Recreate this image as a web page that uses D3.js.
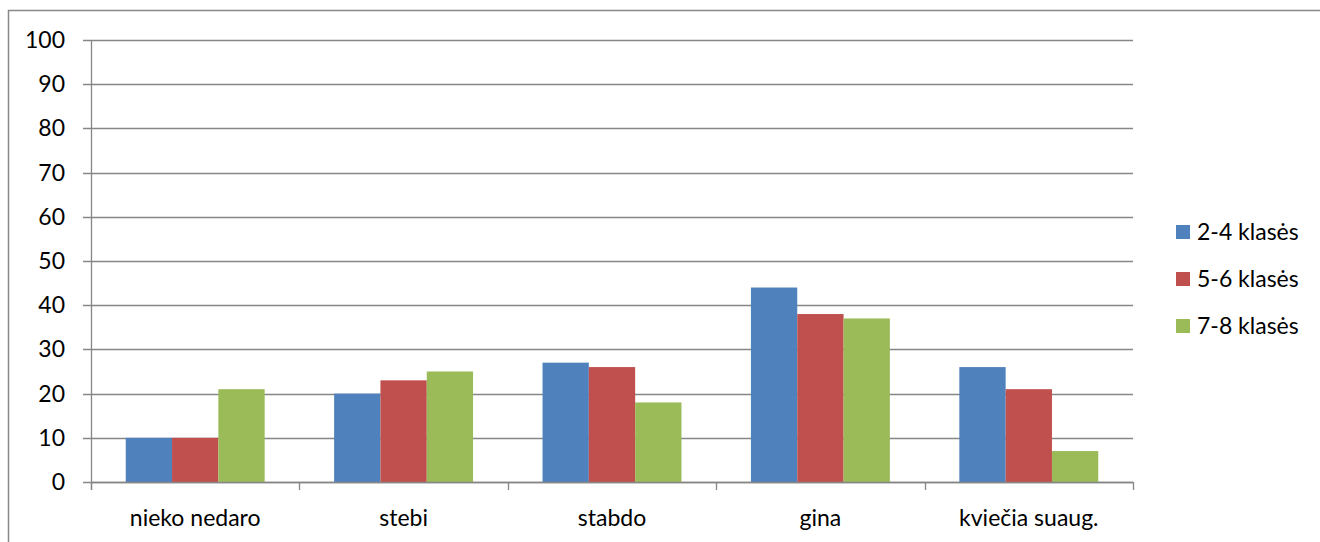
<!DOCTYPE html>
<html>
<head>
<meta charset="utf-8">
<script src="https://cdn.jsdelivr.net/npm/d3@7"></script>
<style>
  html, body { margin: 0; padding: 0; background: #fff; overflow: hidden; }
  svg { display: block; font-family: Lato, "Open Sans", sans-serif; }
</style>
</head>
<body>
<svg id="chart" width="1320" height="542" viewBox="0 0 1320 542"></svg>
<script>
// chart values
const categories = ['nieko nedaro', 'stebi', 'stabdo', 'gina', 'kviečia suaug.'];
const seriesNames = ['2-4 klasės', '5-6 klasės', '7-8 klasės'];
const grades24 = [10, 20, 27, 44, 26];
const grades56 = [10, 23, 26, 38, 21];
const grades78 = [21, 25, 18, 37, 7];
const yTicks = [0, 10, 20, 30, 40, 50, 60, 70, 80, 90, 100];

const seriesValues = [grades24, grades56, grades78];
const colors = ['#4F81BD', '#C0504D', '#9BBB59'];

const svg = d3.select('#chart');
const margin = { left: 91, right: 187, top: 40, bottom: 60 };
const width = 1320, height = 542;
const innerWidth = width - margin.left - margin.right;
const innerHeight = height - margin.top - margin.bottom;

// outer frame: only the top and left edges fall inside the window
svg.append('line')
  .attr('x1', 8.5).attr('x2', 8.5).attr('y1', 10).attr('y2', height)
  .attr('stroke', '#888').attr('stroke-width', 1.5);
svg.append('line')
  .attr('x1', 8).attr('x2', width).attr('y1', 10.5).attr('y2', 10.5)
  .attr('stroke', '#888').attr('stroke-width', 1.5);

const g = svg.append('g')
  .attr('transform', `translate(${margin.left},${margin.top})`);

// Excel style: gap 150% of bar width -> 3 bars + 1.5 gap in each slot
const x0 = d3.scaleBand()
  .domain(categories)
  .range([0, innerWidth])
  .padding(0);
const slot = x0.bandwidth();
const barW = slot / 4.5;
const x1 = d3.scaleBand()
  .domain(d3.range(seriesNames.length))
  .range([barW * 0.75, barW * 3.75]);

const y = d3.scaleLinear().domain([0, 100]).range([innerHeight, 0]);

// gridlines
g.append('g')
  .selectAll('line')
  .data(yTicks)
  .join('line')
  .attr('x1', -8).attr('x2', innerWidth)
  .attr('y1', d => Math.round(y(d)) + 0.5)
  .attr('y2', d => Math.round(y(d)) + 0.5)
  .attr('stroke', '#868686')
  .attr('stroke-width', 1.3);

// y labels
g.append('g')
  .selectAll('text')
  .data(yTicks)
  .join('text')
  .attr('x', -26)
  .attr('y', d => y(d) + 8)
  .attr('text-anchor', 'end')
  .attr('font-size', 23)
  .attr('fill', '#000')
  .text(d => d);

// bars
categories.forEach((cat, ci) => {
  seriesValues.forEach((vals, si) => {
    g.append('rect')
      .attr('x', x0(cat) + x1(si))
      .attr('y', y(vals[ci]))
      .attr('width', x1.bandwidth())
      .attr('height', innerHeight - y(vals[ci]))
      .attr('fill', colors[si]);
  });
});

// y axis line
g.append('line')
  .attr('x1', 0.5).attr('x2', 0.5)
  .attr('y1', 0).attr('y2', innerHeight + 8)
  .attr('stroke', '#868686').attr('stroke-width', 1.3);

// x axis line + ticks
g.append('line')
  .attr('x1', 0).attr('x2', innerWidth)
  .attr('y1', innerHeight + 0.5).attr('y2', innerHeight + 0.5)
  .attr('stroke', '#868686').attr('stroke-width', 1.3);

g.append('g')
  .selectAll('line')
  .data(d3.range(categories.length + 1))
  .join('line')
  .attr('x1', i => Math.round(i * slot) + 0.5)
  .attr('x2', i => Math.round(i * slot) + 0.5)
  .attr('y1', innerHeight).attr('y2', innerHeight + 8)
  .attr('stroke', '#868686').attr('stroke-width', 1.3);

// category labels
g.append('g')
  .selectAll('text')
  .data(categories)
  .join('text')
  .attr('x', d => x0(d) + slot / 2)
  .attr('y', innerHeight + 44)
  .attr('text-anchor', 'middle')
  .attr('font-size', 23)
  .attr('fill', '#000')
  .text(d => d);

// legend
const legend = svg.append('g')
  .attr('transform', 'translate(1176,232)');
seriesNames.forEach((name, i) => {
  const item = legend.append('g').attr('transform', `translate(0,${i * 47})`);
  item.append('rect')
    .attr('x', 0).attr('y', -7)
    .attr('width', 14).attr('height', 14)
    .attr('fill', colors[i]);
  item.append('text')
    .attr('x', 21).attr('y', 8)
    .attr('font-size', 23)
    .attr('fill', '#000')
    .text(name);
});
</script>
</body>
</html>
